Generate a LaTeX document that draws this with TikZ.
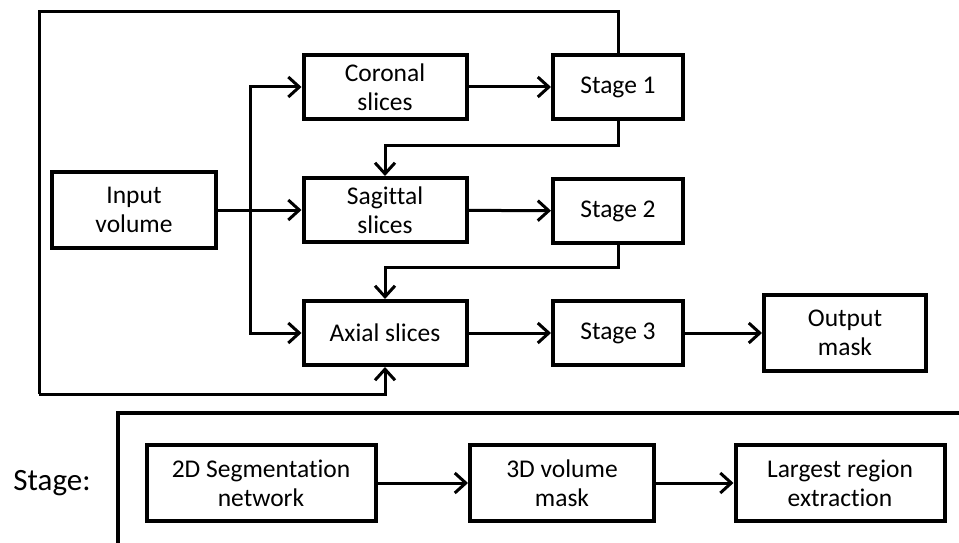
\documentclass[tikz,border=0pt]{standalone}
\usepackage{fontspec}
\setmainfont{Carlito}[Ligatures=NoCommon]
\usetikzlibrary{arrows.meta,calc}

\tikzset{
  blk/.style={draw,line width=4pt,inner sep=0pt,align=center,
    minimum height=64pt,font=\fontsize{25.5}{29}\selectfont},
  tall/.style={minimum height=76pt},
  lnk/.style={line width=3pt,-{Straight Barb[length=11pt,width=20pt]}},
  loop/.style={line width=3pt},
}

\begin{document}
\begin{tikzpicture}[x=1pt,y=-1pt]

	%% page size of the reference
	\useasboundingbox (0,0) rectangle (959,543);

	%% upper chain: slices and stages
	\node[blk,tall,minimum width=164pt] (inp) at (134,210) {Input\\volume};
	\node[blk,minimum width=163pt] (cor) at (385,87) {Coronal\\slices};
	\node[blk,minimum width=163pt] (sag) at (385,210) {Sagittal\\slices};
	\node[blk,minimum width=163pt] (axi) at (385,333) {Axial slices};
	\node[blk,minimum width=130pt] (st1) at (618,87) {Stage 1};
	\node[blk,minimum width=130pt] (st2) at (618,211) {Stage 2};
	\node[blk,minimum width=130pt] (st3) at (618,333) {Stage 3};
	\node[blk,tall,minimum width=162pt] (out) at (845,333) {Output\\mask};

	%% branch point and corners of the big loop
	\coordinate (br) at (250,210);
	\coordinate (L1) at (39,12);
	\coordinate (L2) at (39,394);

	\draw[lnk] (inp.east) -- (sag.west);
	\draw[lnk] (br) |- (cor.west);
	\draw[lnk] (br) |- (axi.west);
	\draw[lnk] (cor) -- (st1);
	\draw[lnk] (sag) -- (st2);
	\draw[lnk] (axi) -- (st3);
	\draw[lnk] (st3) -- (out);

	% feedback of each stage into the next slices
	\draw[lnk] (st1.south) -- ++(0,24) -| (sag.north);
	\draw[lnk] (st2.south) -- ++(0,22) -| (axi.north);
	\draw[loop] (st1.north) |- (L1) -- (L2);
	\draw[lnk] (L2) -| (axi.south);

	%% lower part: what one stage does
	\node[font=\fontsize{31}{36}\selectfont] (stg) at (52,483) {Stage:};
	\coordinate (F1) at (118,545);
	\coordinate (F2) at (118,413);
	\coordinate (F3) at (962,413);
	\draw[line width=4pt] (F1) -- (F2) -- (F3);

	\node[blk,tall,minimum width=229pt] (seg) at (261,483) {2D Segmentation\\network};
	\node[blk,tall,minimum width=184pt] (vol) at (562,483) {3D volume\\mask};
	\node[blk,tall,minimum width=209pt] (lar) at (840,483) {Largest region\\extraction};
	\draw[lnk] (seg) -- (vol);
	\draw[lnk] (vol) -- (lar);

\end{tikzpicture}
\end{document}
